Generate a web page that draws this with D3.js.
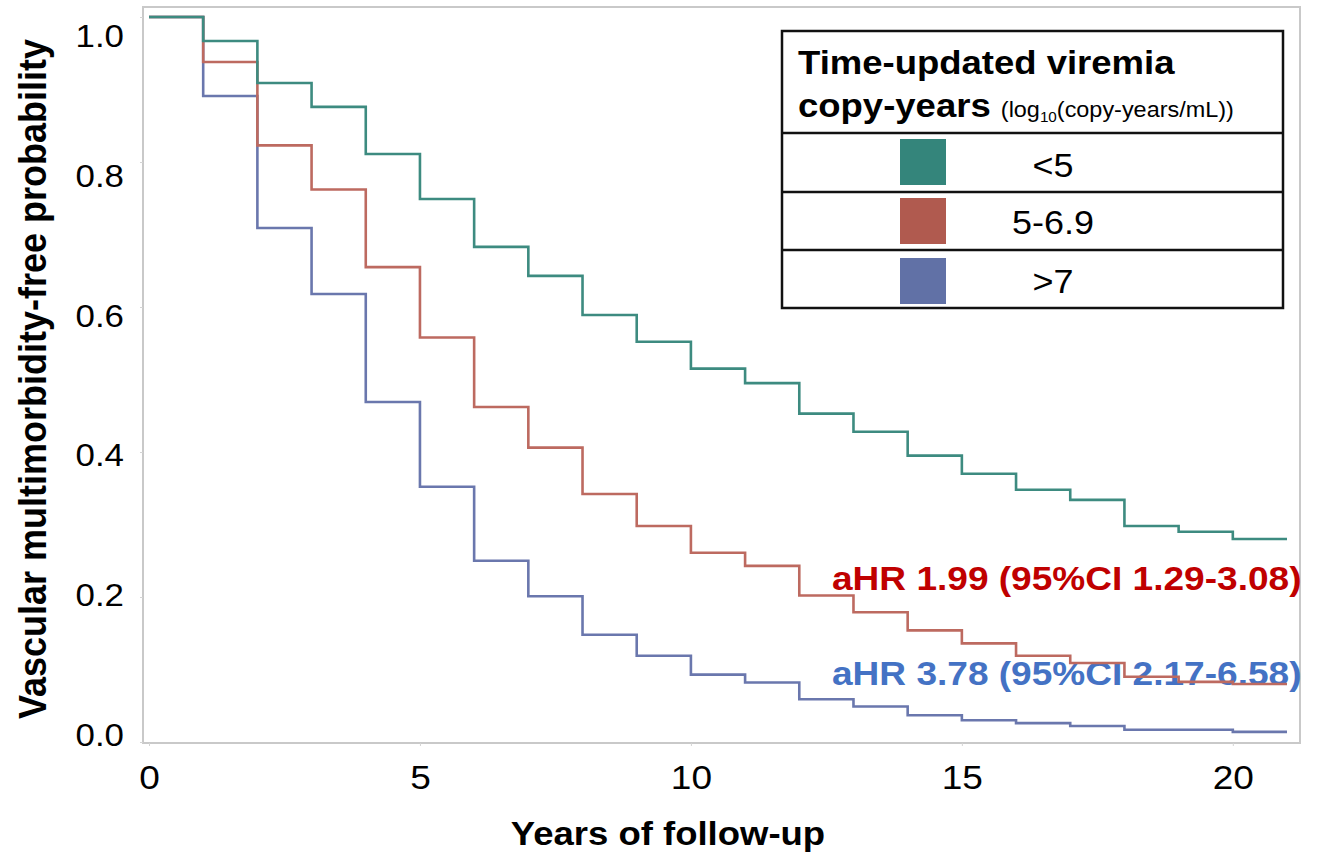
<!DOCTYPE html>
<html>
<head>
<meta charset="utf-8">
<script src="https://cdn.jsdelivr.net/npm/d3@7"></script>
<style>
  html, body { margin: 0; padding: 0; background: #fff; }
  svg { display: block; font-family: "Liberation Sans", Arial, Helvetica, sans-serif; }
</style>
</head>
<body>
<svg id="chart" width="1325" height="853"></svg>
<script>
// Kaplan-Meier style survival curves: value held from each interval start
const intervalStart = [0, 1, 2, 3, 4, 5, 6, 7, 8, 9, 10, 11, 12, 13, 14, 15, 16, 17, 18, 19, 20];
const followUpEnd = 21;

const lowViremia = [1.000, 0.967, 0.909, 0.876, 0.811, 0.749, 0.683, 0.643, 0.589, 0.552, 0.515,
                    0.495, 0.453, 0.428, 0.395, 0.370, 0.348, 0.334, 0.298, 0.290, 0.280];
const midViremia = [1.000, 0.938, 0.823, 0.762, 0.655, 0.558, 0.462, 0.406, 0.342, 0.298, 0.261,
                    0.243, 0.202, 0.179, 0.154, 0.136, 0.119, 0.109, 0.090, 0.083, 0.080];
const highViremia = [1.000, 0.891, 0.709, 0.618, 0.469, 0.352, 0.250, 0.201, 0.148, 0.119, 0.093,
                     0.082, 0.059, 0.049, 0.037, 0.030, 0.026, 0.022, 0.017, 0.017, 0.014];

const groupLabels = ["<5", "5-6.9", ">7"];
const lineColors = ["#3d8b80", "#bd6a60", "#6a77ad"];
const swatchColors = ["#34857b", "#b05a4f", "#6171a6"];

const xTicks = [0, 5, 10, 15, 20];
const yTicks = [0, 0.2, 0.4, 0.6, 0.8, 1.0];

const hrLabels = ["aHR 1.99 (95%CI 1.29-3.08)", "aHR 3.78 (95%CI 2.17-6.58)"];
const hrColors = ["#c00000", "#4472c4"];

// all lettering is drawn slightly widened
const SX = 1.09;

const svg = d3.select("#chart");

const x = d3.scaleLinear().domain([0, followUpEnd]).range([149, 1287]);
const y = d3.scaleLinear().domain([0, 1]).range([742, 17]);
// tick labels sit on their own, slightly shifted band
const yLab = d3.scaleLinear().domain([0, 1]).range([734, 35]);

// plot frame
svg.append("rect")
  .attr("x", 143).attr("y", 7)
  .attr("width", 1300 - 143).attr("height", 743 - 7)
  .attr("fill", "none")
  .attr("stroke", "#c9c9c9")
  .attr("stroke-width", 2);

// x axis
const xAxis = svg.append("g")
  .attr("transform", "translate(0,743)")
  .call(d3.axisBottom(x).tickValues(xTicks).tickSize(3).tickFormat(d3.format("d")));
xAxis.select(".domain").remove();
xAxis.selectAll(".tick line").attr("stroke", "#d4d4d4");
xAxis.selectAll(".tick text")
  .attr("y", 46).attr("dy", null)
  .attr("transform", `scale(${SX},1)`)
  .attr("fill", "#000")
  .style("font-size", "34px");

// y axis: faint ticks on the frame, labels on their own band
const yAxis = svg.append("g")
  .attr("transform", "translate(143,0)")
  .call(d3.axisLeft(y).tickValues(yTicks).tickSize(3).tickFormat(""));
yAxis.select(".domain").remove();
yAxis.selectAll(".tick line").attr("stroke", "#d4d4d4");

const yLabAxis = svg.append("g")
  .attr("transform", "translate(143,0)")
  .call(d3.axisLeft(yLab).tickValues(yTicks).tickSize(0).tickFormat(d3.format(".1f")));
yLabAxis.select(".domain").remove();
yLabAxis.selectAll(".tick text")
  .attr("x", -19 / SX)
  .attr("dy", "0.36em")
  .attr("transform", `scale(${SX},1)`)
  .attr("fill", "#000")
  .style("font-size", "32px");

// axis titles
svg.append("text")
  .attr("transform", `translate(668,845) scale(${SX},1)`)
  .attr("text-anchor", "middle")
  .style("font-size", "33.5px").style("font-weight", "bold")
  .text("Years of follow-up");

svg.append("text")
  .attr("transform", `translate(46,379) scale(${SX},1) rotate(-90)`)
  .attr("text-anchor", "middle")
  .style("font-size", "36px").style("font-weight", "bold")
  .text("Vascular multimorbidity-free probability");

// hazard ratio annotations (curves are drawn over them)
const hrBaselines = [590, 685];
hrLabels.forEach((txt, i) => {
  svg.append("text")
    .attr("transform", `translate(832,${hrBaselines[i]}) scale(${SX},1)`)
    .attr("fill", hrColors[i])
    .style("font-size", "34px").style("font-weight", "bold")
    .text(txt);
});

// step curves
const series = [lowViremia, midViremia, highViremia];
const stepLine = d3.line()
  .x(d => x(d[0]))
  .y(d => y(d[1]))
  .curve(d3.curveStepAfter);

const curveOrder = [2, 1, 0];
svg.append("g").selectAll("path")
  .data(curveOrder)
  .join("path")
  .attr("d", i => {
    const vals = series[i];
    const pts = intervalStart.map((t, k) => [t, vals[k]]);
    pts.push([followUpEnd, vals[vals.length - 1]]);
    return stepLine(pts);
  })
  .attr("fill", "none")
  .attr("stroke", i => lineColors[i])
  .attr("stroke-width", 2.6);

// legend table
const lg = svg.append("g");
lg.append("rect")
  .attr("x", 782).attr("y", 31).attr("width", 501).attr("height", 277)
  .attr("fill", "#fff").attr("stroke", "#111").attr("stroke-width", 2.5);
[133, 192, 250].forEach(yy => {
  lg.append("line")
    .attr("x1", 782).attr("x2", 1283).attr("y1", yy).attr("y2", yy)
    .attr("stroke", "#111").attr("stroke-width", 2.5);
});

lg.append("text")
  .attr("transform", `translate(798,74) scale(${SX},1)`)
  .style("font-size", "33.5px").style("font-weight", "bold")
  .text("Time-updated viremia");

const sub = lg.append("text")
  .attr("transform", `translate(798,117) scale(${SX},1)`)
  .style("font-size", "33.5px").style("font-weight", "bold");
sub.append("tspan").text("copy-years ");
sub.append("tspan").style("font-size", "21.5px").style("font-weight", "normal").text("(log");
sub.append("tspan").style("font-size", "14px").style("font-weight", "normal").attr("dy", 5).text("10");
sub.append("tspan").style("font-size", "21.5px").style("font-weight", "normal").attr("dy", -5).text("(copy-years/mL))");

const rowTops = [139, 198, 258];
const rowBaselines = [177, 234, 293];
groupLabels.forEach((lab, i) => {
  lg.append("rect")
    .attr("x", 900).attr("y", rowTops[i]).attr("width", 46).attr("height", 46)
    .attr("fill", swatchColors[i]);
  lg.append("text")
    .attr("transform", `translate(1053,${rowBaselines[i]}) scale(${SX},1)`)
    .attr("text-anchor", "middle")
    .style("font-size", "33px")
    .text(lab);
});
</script>
</body>
</html>
